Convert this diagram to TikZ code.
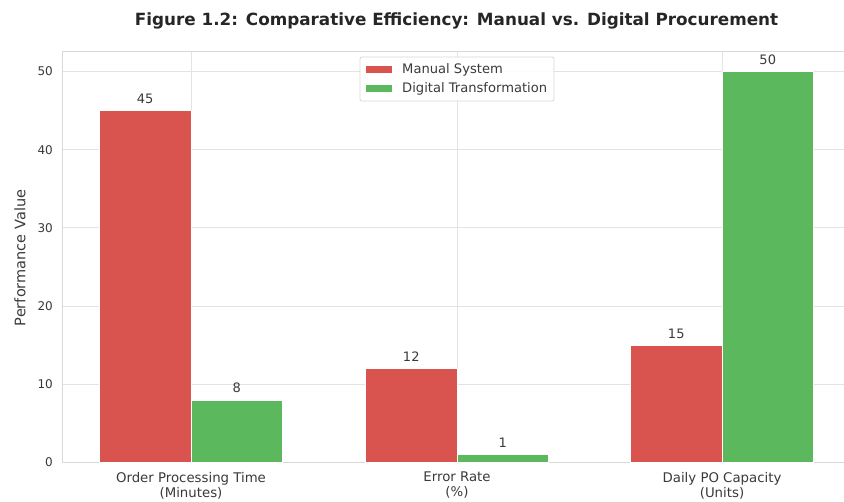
\documentclass[tikz,border=0pt]{standalone}
\usepackage{fontspec}
\setmainfont{DejaVu Sans}
\definecolor{manual}{HTML}{D9534F}
\definecolor{digital}{HTML}{5CB85C}
\definecolor{gridc}{HTML}{E3E3E3}
\definecolor{spinec}{HTML}{D8D8D8}
\definecolor{txt}{HTML}{3A3A3A}
\definecolor{titlec}{HTML}{262626}
\tikzset{
  gridline/.style={draw=gridc, line width=1pt},
  spine/.style={draw=spinec, line width=1pt},
  manualbar/.style={fill=manual, draw=white, line width=0.6pt},
  digitalbar/.style={fill=digital, draw=white, line width=0.6pt},
  ticklab/.style={text=txt, font=\fontsize{12}{14}\selectfont, inner sep=0pt, anchor=east},
  vallab/.style={text=txt, font=\fontsize{13}{15}\selectfont, inner sep=0pt, anchor=base},
  catlab/.style={text=txt, font=\fontsize{13.3}{15}\selectfont, inner sep=0pt, align=center, anchor=north},
  leglab/.style={text=txt, font=\fontsize{13.1}{14}\selectfont, inner sep=0pt, anchor=west},
  legbox/.style={draw=spinec, fill=white, fill opacity=0.9, line width=0.8pt, rounded corners=2pt},
}
\begin{document}
\begin{tikzpicture}[x=1pt,y=-1pt]
\useasboundingbox (0,0) rectangle (844,502);
\fill[white] (0,0) rectangle (844,502);
% grid
\foreach \v in {0,10,...,50} {
  \draw[gridline] (62,{462.5-7.82*\v}) -- (844,{462.5-7.82*\v});
  \node[ticklab] (t\v) at (53,{462.5-7.82*\v}) {\v};
}
\foreach \c in {191,457,722} \draw[gridline] (\c,51.5) -- (\c,462.5);
\draw[spine] (844,51.5) -- (62,51.5) -- (62,462.5) -- (844,462.5);
% bars
\foreach \c/\m/\d [count=\i] in {191/45/8, 457/12/1, 722/15/50} {
  \path[manualbar] (\c-91.5,462.5) rectangle (\c,{462.5-7.82*\m});
  \path[digitalbar] (\c,462.5) rectangle (\c+91.5,{462.5-7.82*\d});
  \node[vallab] (m\i) at (\c-45.75,{462.5-7.82*\m-7}) {\m};
  \node[vallab] (d\i) at (\c+45.75,{462.5-7.82*\d-7}) {\d};
}
% category labels
\node[catlab] (c1) at (191,472) {Order Processing Time\\(Minutes)};
\node[catlab] (c2) at (457,472) {Error Rate\\(\%)};
\node[catlab] (c3) at (722,472) {Daily PO Capacity\\(Units)};
% axis label
\node[text=txt, font=\fontsize{14.5}{16}\selectfont, rotate=90, inner sep=0pt] (ylab) at (20,258) {Performance Value};
% title
\node[text=titlec, font=\fontsize{16.8}{19}\selectfont\bfseries, inner sep=0pt] (title) at (456.5,21) {Figure 1.2: Comparative Efficiency: Manual vs. Digital Procurement};
% legend
\path[legbox] (360,57) rectangle (554,101);
\fill[manual] (366,66.5) rectangle (392,73.5);
\fill[digital] (366,85) rectangle (392,92);
\node[leglab] (l1) at (402,70) {Manual System};
\node[leglab] (l2) at (402,88.5) {Digital Transformation};
\end{tikzpicture}
\end{document}
